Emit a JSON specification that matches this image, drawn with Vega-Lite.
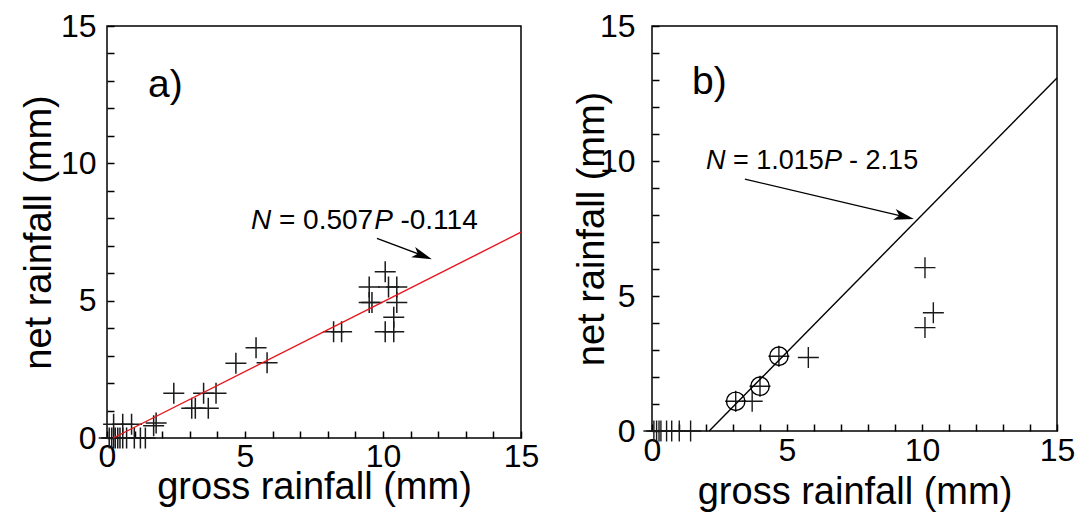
{
  "$schema": "https://vega.github.io/schema/vega-lite/v6.json",
  "padding": {"left": 19, "top": 9, "right": 5, "bottom": 5},
  "spacing": 32,
  "datasets": {
    "a_pts": [
      {"P": 0.08, "N": 0}, {"P": 0.17, "N": 0}, {"P": 0.24, "N": 0}, {"P": 0.3, "N": 0},
      {"P": 0.39, "N": 0}, {"P": 0.47, "N": 0}, {"P": 0.57, "N": 0}, {"P": 0.71, "N": 0},
      {"P": 0.99, "N": 0}, {"P": 1.21, "N": 0}, {"P": 1.39, "N": 0},
      {"P": 0.24, "N": 0.5}, {"P": 0.57, "N": 0.5}, {"P": 0.89, "N": 0.5}, {"P": 1.69, "N": 0.45}, {"P": 1.78, "N": 0.55},
      {"P": 2.42, "N": 1.63}, {"P": 3.5, "N": 1.63}, {"P": 3.95, "N": 1.63},
      {"P": 3.07, "N": 1.08}, {"P": 3.2, "N": 1.08}, {"P": 3.67, "N": 1.08},
      {"P": 4.67, "N": 2.72}, {"P": 5.4, "N": 3.29}, {"P": 5.8, "N": 2.74},
      {"P": 8.21, "N": 3.87}, {"P": 8.5, "N": 3.87},
      {"P": 9.5, "N": 5.5}, {"P": 9.5, "N": 4.93}, {"P": 9.6, "N": 4.93}, {"P": 10.2, "N": 5.5},
      {"P": 10.5, "N": 5.5}, {"P": 10.5, "N": 4.93}, {"P": 10.08, "N": 6.05},
      {"P": 10.39, "N": 4.4}, {"P": 10.08, "N": 3.87}, {"P": 10.39, "N": 3.87}
    ],
    "a_line": [{"P": 0.225, "N": 0}, {"P": 15, "N": 7.491}],
    "a_arrow": [{"P": 9.78, "N": 7.27, "P2": 11.5, "N2": 6.62}],
    "a_head": [{"P": 11.77, "N": 6.51}],
    "a_text": [
      {"P": 5.22, "N": 7.61, "t": "N", "s": "italic"},
      {"P": 6.23, "N": 7.61, "t": "= 0.507", "s": "normal"},
      {"P": 9.68, "N": 7.61, "t": "P", "s": "italic"},
      {"P": 10.63, "N": 7.61, "t": "-0.114", "s": "normal"}
    ],
    "a_lab": [{"P": 1.49, "N": 12.4, "t": "a)"}],
    "b_pts": [
      {"P": 0.07, "N": 0}, {"P": 0.17, "N": 0}, {"P": 0.26, "N": 0}, {"P": 0.33, "N": 0},
      {"P": 0.54, "N": 0}, {"P": 0.73, "N": 0}, {"P": 1.01, "N": 0}, {"P": 1.43, "N": 0},
      {"P": 3.1, "N": 1.1}, {"P": 4.0, "N": 1.66}, {"P": 4.7, "N": 2.77},
      {"P": 3.71, "N": 1.1}, {"P": 5.79, "N": 2.72},
      {"P": 10.11, "N": 6.05}, {"P": 10.42, "N": 4.38}, {"P": 10.11, "N": 3.83}
    ],
    "b_circ": [{"P": 3.1, "N": 1.1}, {"P": 4.0, "N": 1.66}, {"P": 4.7, "N": 2.77}],
    "b_line": [{"P": 2.118, "N": 0}, {"P": 15, "N": 13.075}],
    "b_arrow": [{"P": 3.44, "N": 9.33, "P2": 9.45, "N2": 7.91}],
    "b_head": [{"P": 9.7, "N": 7.85}],
    "b_text": [
      {"P": 2.0, "N": 9.7, "t": "N", "s": "italic"},
      {"P": 3.0, "N": 9.7, "t": "= 1.015", "s": "normal"},
      {"P": 6.37, "N": 9.7, "t": "P", "s": "italic"},
      {"P": 7.3, "N": 9.7, "t": "- 2.15", "s": "normal"}
    ],
    "b_lab": [{"P": 1.48, "N": 12.48, "t": "b)"}]
  },
  "hconcat": [
    {
      "width": 414,
      "height": 412,
      "layer": [
        {
          "data": {"name": "a_pts"},
          "mark": {"type": "point", "shape": "M-1,0L1,0M0,-1L0,1", "size": 441, "filled": false, "stroke": "#1a1a1a", "strokeWidth": 1.5, "opacity": 1},
          "encoding": {
            "x": {"field": "P", "type": "quantitative", "scale": {"domain": [0, 15], "nice": false, "zero": false},
                  "axis": {"title": "gross rainfall (mm)", "titlePadding": -4, "labelPadding": 3}},
            "y": {"field": "N", "type": "quantitative", "scale": {"domain": [0, 15], "nice": false, "zero": false},
                  "axis": {"title": "net rainfall (mm)", "titlePadding": 2, "labelPadding": 11}}
          }
        },
        {
          "data": {"name": "a_line"},
          "mark": {"type": "line", "color": "#e8141c", "strokeWidth": 1.4},
          "encoding": {"x": {"field": "P", "type": "quantitative"}, "y": {"field": "N", "type": "quantitative"}}
        },
        {
          "data": {"name": "a_arrow"},
          "mark": {"type": "rule", "color": "black", "strokeWidth": 1.4},
          "encoding": {"x": {"field": "P", "type": "quantitative"}, "y": {"field": "N", "type": "quantitative"}, "x2": {"field": "P2"}, "y2": {"field": "N2"}}
        },
        {
          "data": {"name": "a_head"},
          "mark": {"type": "point", "shape": "M0,0L-2,-0.55L-1.5,0L-2,0.55Z", "size": 400, "filled": true, "color": "black", "opacity": 1, "angle": 21},
          "encoding": {"x": {"field": "P", "type": "quantitative"}, "y": {"field": "N", "type": "quantitative"}}
        },
        {
          "data": {"name": "a_text"},
          "transform": [{"filter": "datum.s === 'italic'"}],
          "mark": {"type": "text", "align": "left", "baseline": "alphabetic", "fontSize": 28, "fontStyle": "italic", "font": "Liberation Sans", "color": "black"},
          "encoding": {"x": {"field": "P", "type": "quantitative"}, "y": {"field": "N", "type": "quantitative"}, "text": {"field": "t"}}
        },
        {
          "data": {"name": "a_text"},
          "transform": [{"filter": "datum.s === 'normal'"}],
          "mark": {"type": "text", "align": "left", "baseline": "alphabetic", "fontSize": 28, "font": "Liberation Sans", "color": "black"},
          "encoding": {"x": {"field": "P", "type": "quantitative"}, "y": {"field": "N", "type": "quantitative"}, "text": {"field": "t"}}
        },
        {
          "data": {"name": "a_lab"},
          "mark": {"type": "text", "align": "left", "baseline": "alphabetic", "fontSize": 39, "font": "Liberation Sans", "color": "black"},
          "encoding": {"x": {"field": "P", "type": "quantitative"}, "y": {"field": "N", "type": "quantitative"}, "text": {"field": "t"}}
        }
      ]
    },
    {
      "width": 405,
      "height": 405,
      "layer": [
        {
          "data": {"name": "b_pts"},
          "mark": {"type": "point", "shape": "M-1,0L1,0M0,-1L0,1", "size": 441, "filled": false, "stroke": "#1a1a1a", "strokeWidth": 1.4, "opacity": 1},
          "encoding": {
            "x": {"field": "P", "type": "quantitative", "scale": {"domain": [0, 15], "nice": false, "zero": false},
                  "axis": {"title": "gross rainfall (mm)", "titlePadding": 7, "labelPadding": 4}},
            "y": {"field": "N", "type": "quantitative", "scale": {"domain": [0, 15], "nice": false, "zero": false},
                  "axis": {"title": "net rainfall (mm)", "titlePadding": -12, "labelPadding": 17}}
          }
        },
        {
          "data": {"name": "b_circ"},
          "mark": {"type": "point", "shape": "circle", "size": 340, "filled": false, "stroke": "black", "strokeWidth": 1.4, "opacity": 1},
          "encoding": {"x": {"field": "P", "type": "quantitative"}, "y": {"field": "N", "type": "quantitative"}}
        },
        {
          "data": {"name": "b_line"},
          "mark": {"type": "line", "color": "black", "strokeWidth": 1.4},
          "encoding": {"x": {"field": "P", "type": "quantitative"}, "y": {"field": "N", "type": "quantitative"}}
        },
        {
          "data": {"name": "b_arrow"},
          "mark": {"type": "rule", "color": "black", "strokeWidth": 1.4},
          "encoding": {"x": {"field": "P", "type": "quantitative"}, "y": {"field": "N", "type": "quantitative"}, "x2": {"field": "P2"}, "y2": {"field": "N2"}}
        },
        {
          "data": {"name": "b_head"},
          "mark": {"type": "point", "shape": "M0,0L-2,-0.55L-1.5,0L-2,0.55Z", "size": 400, "filled": true, "color": "black", "opacity": 1, "angle": 13.5},
          "encoding": {"x": {"field": "P", "type": "quantitative"}, "y": {"field": "N", "type": "quantitative"}}
        },
        {
          "data": {"name": "b_text"},
          "transform": [{"filter": "datum.s === 'italic'"}],
          "mark": {"type": "text", "align": "left", "baseline": "alphabetic", "fontSize": 27, "fontStyle": "italic", "font": "Liberation Sans", "color": "black"},
          "encoding": {"x": {"field": "P", "type": "quantitative"}, "y": {"field": "N", "type": "quantitative"}, "text": {"field": "t"}}
        },
        {
          "data": {"name": "b_text"},
          "transform": [{"filter": "datum.s === 'normal'"}],
          "mark": {"type": "text", "align": "left", "baseline": "alphabetic", "fontSize": 27, "font": "Liberation Sans", "color": "black"},
          "encoding": {"x": {"field": "P", "type": "quantitative"}, "y": {"field": "N", "type": "quantitative"}, "text": {"field": "t"}}
        },
        {
          "data": {"name": "b_lab"},
          "mark": {"type": "text", "align": "left", "baseline": "alphabetic", "fontSize": 39, "font": "Liberation Sans", "color": "black"},
          "encoding": {"x": {"field": "P", "type": "quantitative"}, "y": {"field": "N", "type": "quantitative"}, "text": {"field": "t"}}
        }
      ]
    }
  ],
  "config": {
    "view": {"stroke": "black", "strokeWidth": 1.5},
    "font": "Liberation Sans",
    "axis": {
      "zindex": 1,
      "offset": -7,
      "ticks": true,
      "tickSize": 7,
      "domain": false,
      "values": [0, 1, 2, 3, 4, 5, 6, 7, 8, 9, 10, 11, 12, 13, 14, 15],
      "labelExpr": "datum.value % 5 === 0 ? datum.label : ''",
      "labelOverlap": false,
      "labelFlush": false,
      "grid": false,
      "labelFont": "Liberation Sans",
      "labelFontSize": 32,
      "labelColor": "black",
      "titleFont": "Liberation Sans",
      "titleFontSize": 38,
      "titleFontWeight": "normal",
      "titleColor": "black",
      "tickColor": "black",
      "tickWidth": 1.5
    }
  }
}
